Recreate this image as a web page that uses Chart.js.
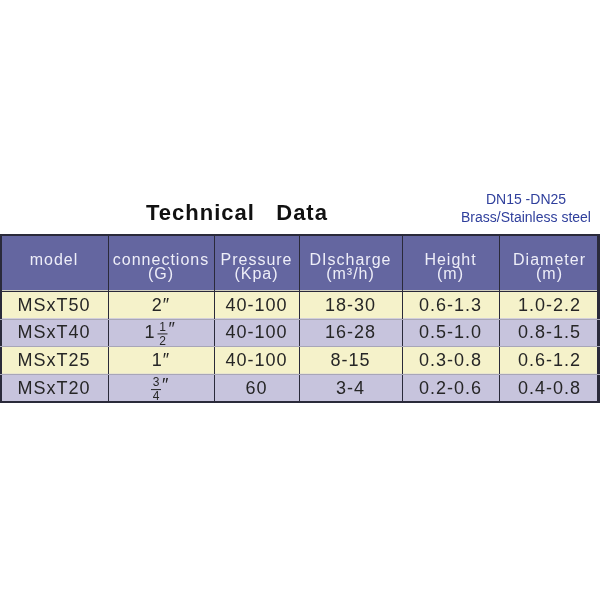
<!DOCTYPE html>
<html>
<head>
<meta charset="utf-8">
<script src="https://cdn.jsdelivr.net/npm/chart.js@4/dist/chart.umd.min.js"></script>
<style>
  html, body { margin: 0; padding: 0; background: #fff; }
  #wrap { width: 600px; height: 600px; }
</style>
</head>
<body>
<div id="wrap"><canvas id="tabla"></canvas></div>
<script>
// Datos de la tabla
const columnas = ['model', 'connections', 'Pressure', 'DIscharge', 'Height', 'Diameter'];
const unidades = ['', '(G)', '(Kpa)', '(m³/h)', '(m)', '(m)'];
const modelos = ['MSxT50', 'MSxT40', 'MSxT25', 'MSxT20'];
const conexiones = ['2″', '1 1/2″', '1″', '3/4″'];
const presion = ['40-100', '40-100', '40-100', '60'];
const caudal = ['18-30', '16-28', '8-15', '3-4'];
const altura = ['0.6-1.3', '0.5-1.0', '0.3-0.8', '0.2-0.6'];
const diametro = ['1.0-2.2', '0.8-1.5', '0.6-1.2', '0.4-0.8'];
const filas = ['cab1', 'cab2'].concat(modelos);

// Layout: bordes de columna en unidades del eje x (0-600)
const bordes = [0, 108, 214, 299, 402, 499, 600];
const valores = [modelos, conexiones, presion, caudal, altura, diametro];
const colorCab = '#6466a0', colorAmarillo = '#f5f2ca', colorLila = '#c7c4dd';
const fuente = '"Liberation Sans", Arial, sans-serif';

const datasets = columnas.map((c, i) => ({
  label: c,
  data: filas.map(() => [bordes[i], bordes[i + 1]]),
  backgroundColor: filas.map((f, j) => j < 2 ? colorCab : (j % 2 === 0 ? colorAmarillo : colorLila)),
  borderWidth: 0
}));

function dibujarCelda(ctx, txt, x, y) {
  const m = txt.match(/^(\d+ )?(\d)\/(\d)(″)$/);
  if (!m) { ctx.fillText(txt, x, y); return; }
  // Fracción apilada
  const entero = m[1] ? m[1].trim() : '';
  const ancho = (entero ? 13 : 0) + 12 + 8;
  let cx = x - ancho / 2;
  ctx.save();
  ctx.textAlign = 'left';
  if (entero) { ctx.fillText(entero, cx, y); cx += 13; }
  ctx.font = '12px ' + fuente;
  ctx.letterSpacing = '0px';
  ctx.textAlign = 'center';
  ctx.fillText(m[2], cx + 5, y - 6);
  ctx.fillText(m[3], cx + 5, y + 8);
  ctx.fillRect(cx, y, 10, 1);
  ctx.font = '18px ' + fuente;
  ctx.textAlign = 'left';
  ctx.fillText(m[4], cx + 11, y - 3);
  ctx.restore();
}

const textos = {
  id: 'textos',
  afterDatasetsDraw(chart) {
    const { ctx, scales: { x, y } } = chart;
    const alto = y.getPixelForValue(1) - y.getPixelForValue(0);
    const arriba = y.getPixelForValue(0) - alto / 2;
    const abajo = y.getPixelForValue(filas.length - 1) + alto / 2;
    ctx.save();
    // Líneas
    ctx.strokeStyle = '#2a2a3a';
    bordes.forEach((b, i) => {
      const px = Math.min(x.getPixelForValue(b), 598) + 0.5;
      ctx.lineWidth = (i === 0 || i === bordes.length - 1) ? 3 : 1;
      ctx.beginPath(); ctx.moveTo(px, arriba); ctx.lineTo(px, abajo); ctx.stroke();
    });
    for (let j = 2; j < filas.length; j++) {
      const py = Math.round(y.getPixelForValue(j) - alto / 2) + 0.5;
      ctx.lineWidth = 1;
      ctx.strokeStyle = j === 2 ? '#2a2a3a' : '#a8a6b8';
      ctx.beginPath(); ctx.moveTo(x.getPixelForValue(0), py); ctx.lineTo(x.getPixelForValue(600), py); ctx.stroke();
    }
    ctx.strokeStyle = '#2a2a3a';
    ctx.lineWidth = 2;
    ctx.beginPath(); ctx.moveTo(0, arriba); ctx.lineTo(600, arriba); ctx.stroke();
    ctx.beginPath(); ctx.moveTo(0, abajo); ctx.lineTo(600, abajo); ctx.stroke();

    // Cabecera
    ctx.textAlign = 'center';
    ctx.textBaseline = 'middle';
    ctx.fillStyle = '#eeeef8';
    ctx.font = '16px ' + fuente;
    ctx.letterSpacing = '1px';
    const yc = (y.getPixelForValue(0) + y.getPixelForValue(1)) / 2;
    columnas.forEach((c, i) => {
      const cx = (x.getPixelForValue(bordes[i]) + x.getPixelForValue(bordes[i + 1])) / 2;
      ctx.fillText(c, cx, yc - 2);
      if (unidades[i]) ctx.fillText(unidades[i], cx, yc + 12);
    });
    // Filas
    ctx.fillStyle = '#262626';
    ctx.font = '18px ' + fuente;
    valores.forEach((col, i) => {
      const cx = (x.getPixelForValue(bordes[i]) + x.getPixelForValue(bordes[i + 1])) / 2;
      col.forEach((v, j) => dibujarCelda(ctx, v, cx, y.getPixelForValue(j + 2) + 1));
    });
    // Títulos
    ctx.fillStyle = '#111';
    ctx.font = 'bold 22px ' + fuente;
    ctx.letterSpacing = '1px';
    ctx.fillText('Technical   Data', 237, 214);
    ctx.letterSpacing = '0px';
    ctx.fillStyle = '#2f3f9c';
    ctx.font = '14px ' + fuente;
    ctx.fillText('DN15 -DN25', 526, 200);
    ctx.font = '14px "Liberation Sans Narrow", ' + fuente;
    ctx.fillText('Brass/Stainless steel', 526, 218);
    ctx.restore();
  }
};

document.addEventListener('DOMContentLoaded', function () {
  new Chart(document.getElementById('tabla').getContext('2d'), {
    type: 'bar',
    data: { labels: filas, datasets: datasets },
    options: {
      indexAxis: 'y',
      responsive: true,
      maintainAspectRatio: false,
      animation: false,
      layout: { padding: { top: 235, bottom: 198, left: 0, right: 0 } },
      datasets: { bar: { categoryPercentage: 1, barPercentage: 1, grouped: false } },
      scales: {
        x: { type: 'linear', min: 0, max: 600, stacked: false, display: false },
        y: { type: 'category', display: false }
      },
      plugins: { legend: { display: false }, tooltip: { enabled: false } }
    },
    plugins: [textos]
  });
});
</script>
</body>
</html>
